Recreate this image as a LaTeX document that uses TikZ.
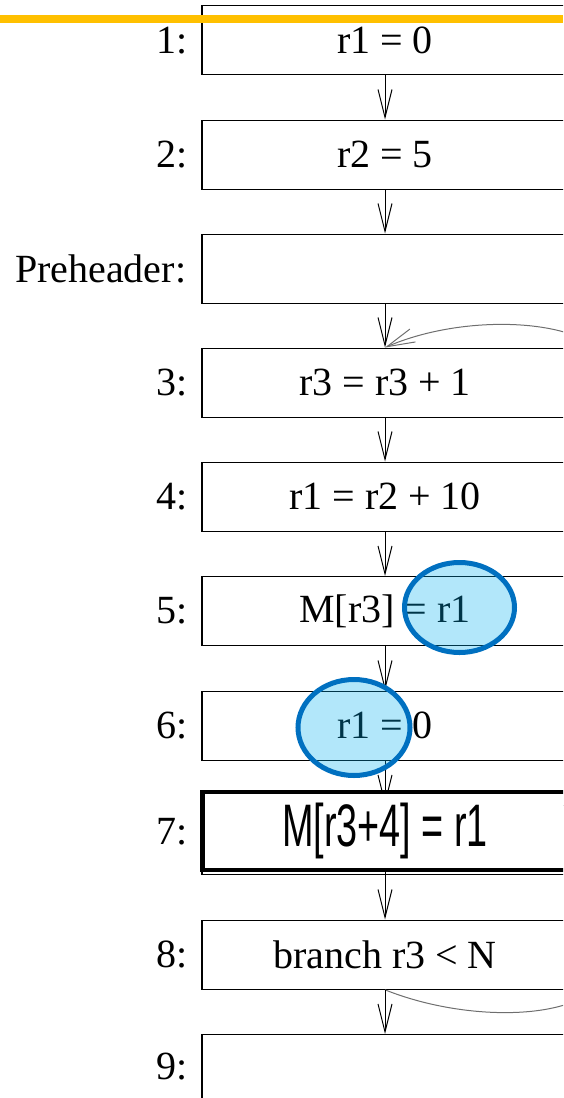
\documentclass[tikz,border=0pt]{standalone}
\usepackage{fontspec}
\usepackage{graphicx}
\setmainfont{Liberation Serif}
\newfontfamily\arialfont{Liberation Sans}
\usetikzlibrary{arrows.meta,shapes.geometric}
\begin{document}
\begin{tikzpicture}[x=1pt,y=-1pt,
  blk/.style={draw=black, line width=1.3pt, minimum width=366pt, minimum height=69pt,
    inner sep=0pt, anchor=north, font=\fontsize{40}{44}\selectfont},
  lbl/.style={inner sep=0pt, anchor=east, font=\fontsize{40}{44}\selectfont},
  arr/.style={line width=1pt, -{Straight Barb[length=28pt,width=14pt,line width=1pt]}},
  looparr/.style={draw={rgb,255:red,110;green,110;blue,110}, line width=1pt,
    -{Straight Barb[length=28pt,width=14pt,line width=1pt]}},
  hl/.style={ellipse, draw={rgb,255:red,0;green,112;blue,192}, line width=5pt,
    fill={rgb,255:red,0;green,176;blue,240}, fill opacity=0.3, inner sep=0pt},
  rule/.style={draw={rgb,255:red,255;green,192;blue,0}, line width=8pt}
]
\useasboundingbox (0,0) rectangle (563,1098);
\clip (0,0) rectangle (563,1098);

% blocks
\node[blk] (b1) at (385,5)     {r1 = 0};
\node[blk] (b2) at (385,119.5) {r2 = 5};
\node[blk] (bp) at (385,233.5) {};
\node[blk] (b3) at (385,347.5) {r3 = r3 + 1};
\node[blk] (b4) at (385,461.5) {r1 = r2 + 10};
\node[blk] (b5) at (385,576)   {M[r3] = r1};
\node[blk] (b6) at (385,690.5) {r1 = 0};
\node[blk] (b7) at (385,805)   {};
\node[blk] (b8) at (385,919.5) {branch r3 < N};
\node[blk] (b9) at (385,1034)  {};

% labels
\node[lbl] (l1) at ([xshift=-14pt]b1.west) {1:};
\node[lbl] (l2) at ([xshift=-14pt]b2.west) {2:};
\node[lbl] (lp) at ([xshift=-15pt]bp.west) {Preheader:};
\node[lbl] (l3) at ([xshift=-14pt]b3.west) {3:};
\node[lbl] (l4) at ([xshift=-14pt]b4.west) {4:};
\node[lbl] (l5) at ([xshift=-14pt]b5.west) {5:};
\node[lbl] (l6) at ([xshift=-14pt]b6.west) {6:};
\node[lbl] (l7) at ([xshift=-14pt,yshift=8pt]b7.west) {7:};
\node[lbl] (l8) at ([xshift=-14pt]b8.west) {8:};
\node[lbl] (l9) at ([xshift=-14pt,yshift=3pt]b9.west) {9:};

% arrows
\draw[arr] (b1.south) -- (b2.north);
\draw[arr] (b2.south) -- (bp.north);
\draw[arr] (bp.south) -- (b3.north);
\draw[arr] (b3.south) -- (b4.north);
\draw[arr] (b4.south) -- (b5.north);
\draw[arr] (b5.south) -- (b6.north);
\draw[arr] (b6.south) -- (b7.north);

% back edge
\coordinate (r1) at (600,985);
\coordinate (r2) at (600,350);
\draw[looparr] (b8.south) .. controls (460,1020) and (565,1022) .. (r1)
  -- (r2) .. controls (565,318) and (460,315) .. (b3.north);

% replaced instruction 7
\node[blk, line width=4.5pt, fill=white, minimum width=365pt, minimum height=78pt]
  (b7x) at (385,789.5)
  {\arialfont\fontsize{60}{60}\selectfont\scalebox{0.63}[1]{M[r3+4] = r1}};
\draw[arr] (b7x.south) -- (b8.north);
\draw[arr] (b8.south) -- (b9.north);

% highlights
\node[hl, minimum width=110pt, minimum height=90pt] (e1) at (459.5,607.5) {};
\node[hl, minimum width=112pt, minimum height=96pt] (e2) at (354,727.5) {};

% title rule
\draw[rule] (0,18.5) -- (563,18.5);
\end{tikzpicture}
\end{document}
